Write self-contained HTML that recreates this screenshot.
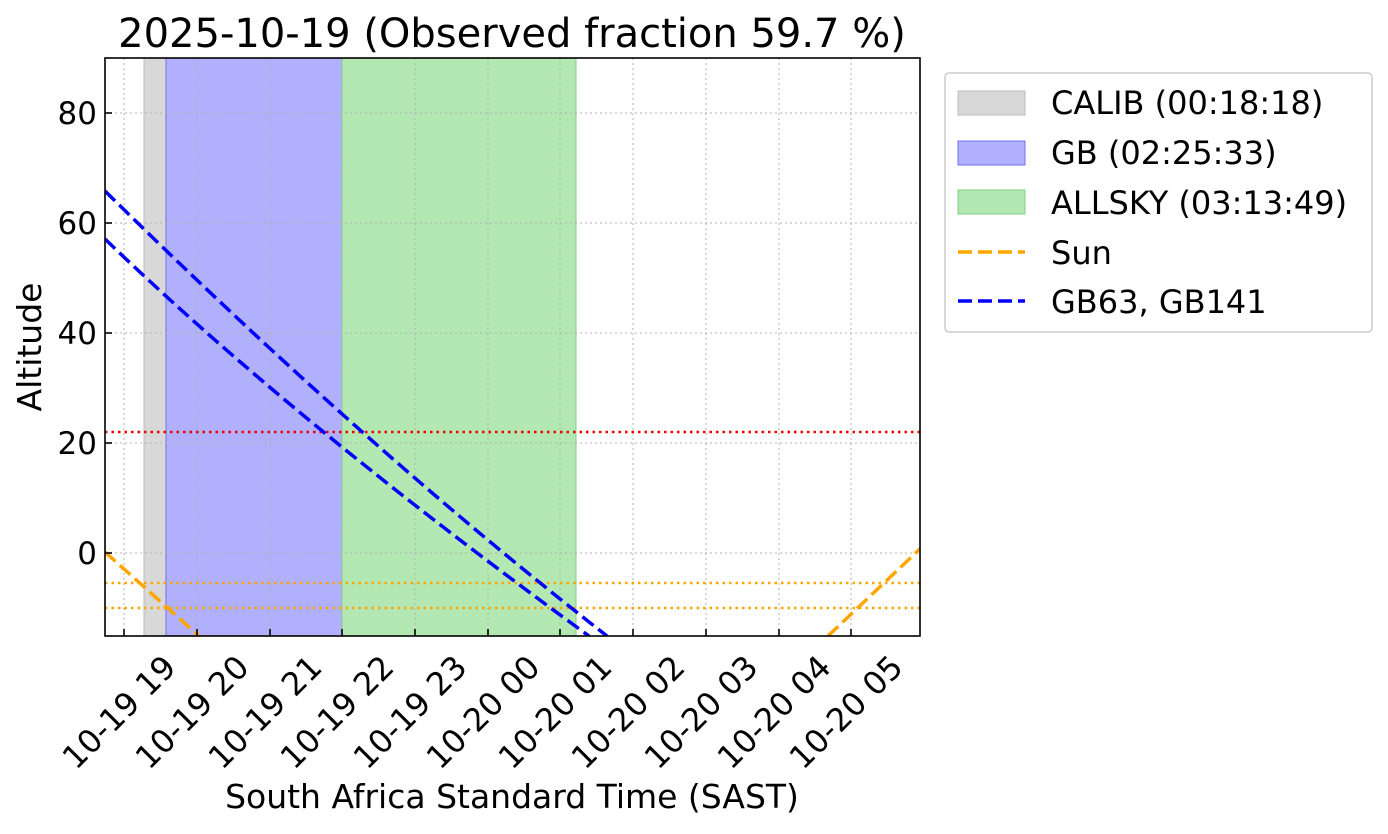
<!DOCTYPE html>
<html><head><meta charset="utf-8"><style>
body{margin:0;background:#fff}
svg text{font-family:"DejaVu Sans","Liberation Sans",sans-serif;fill:#000}
</style></head><body>
<svg width="1388" height="829" viewBox="0 0 1388 829" xmlns="http://www.w3.org/2000/svg">
<defs><clipPath id="c"><rect x="105" y="58" width="815" height="578"/></clipPath></defs>
<rect x="144" y="58" width="22" height="578" fill="#d8d8d8" stroke="#bbb" stroke-width="1"/>
<rect x="166" y="58" width="176" height="578" fill="#b0b0fc" stroke="#7070f0" stroke-width="1"/>
<rect x="342" y="58" width="234" height="578" fill="#b3e8b3" stroke="#80d080" stroke-width="1"/>
<g stroke="#b0b0b0" stroke-width="1" stroke-dasharray="2,3">
<line x1="124" y1="58" x2="124" y2="636"/><line x1="197" y1="58" x2="197" y2="636"/><line x1="270" y1="58" x2="270" y2="636"/><line x1="342" y1="58" x2="342" y2="636"/><line x1="415" y1="58" x2="415" y2="636"/><line x1="488" y1="58" x2="488" y2="636"/><line x1="560" y1="58" x2="560" y2="636"/><line x1="633" y1="58" x2="633" y2="636"/><line x1="706" y1="58" x2="706" y2="636"/><line x1="779" y1="58" x2="779" y2="636"/><line x1="851" y1="58" x2="851" y2="636"/>
<line x1="105" y1="113" x2="920" y2="113"/><line x1="105" y1="223" x2="920" y2="223"/><line x1="105" y1="333" x2="920" y2="333"/><line x1="105" y1="443" x2="920" y2="443"/><line x1="105" y1="553" x2="920" y2="553"/>
</g>
<g clip-path="url(#c)" fill="none">
<line x1="105" y1="432" x2="920" y2="432" stroke="#e00" stroke-width="2.5" stroke-dasharray="2.5,4"/>
<line x1="105" y1="583" x2="920" y2="583" stroke="orange" stroke-width="2.5" stroke-dasharray="2.5,4"/>
<line x1="105" y1="608" x2="920" y2="608" stroke="orange" stroke-width="2.5" stroke-dasharray="2.5,4"/>
<path d="M105,191 Q368,450 607,636" stroke="#00f" stroke-width="3.5" stroke-dasharray="14,6"/>
<path d="M105,239 Q297,424 589,636" stroke="#00f" stroke-width="3.5" stroke-dasharray="14,6"/>
<line x1="105" y1="552" x2="199" y2="636" stroke="orange" stroke-width="3.5" stroke-dasharray="14,6"/>
<line x1="828" y1="636" x2="922" y2="547" stroke="orange" stroke-width="3.5" stroke-dasharray="14,6"/>
</g>
<rect x="105" y="58" width="815" height="578" fill="none" stroke="#000" stroke-width="1.6"/>
<g stroke="#000" stroke-width="1.6">
<line x1="124" y1="636" x2="124" y2="629"/><line x1="197" y1="636" x2="197" y2="629"/><line x1="270" y1="636" x2="270" y2="629"/><line x1="342" y1="636" x2="342" y2="629"/><line x1="415" y1="636" x2="415" y2="629"/><line x1="488" y1="636" x2="488" y2="629"/><line x1="560" y1="636" x2="560" y2="629"/><line x1="633" y1="636" x2="633" y2="629"/><line x1="706" y1="636" x2="706" y2="629"/><line x1="779" y1="636" x2="779" y2="629"/><line x1="851" y1="636" x2="851" y2="629"/>
<line x1="105" y1="113" x2="112" y2="113"/><line x1="105" y1="223" x2="112" y2="223"/><line x1="105" y1="333" x2="112" y2="333"/><line x1="105" y1="443" x2="112" y2="443"/><line x1="105" y1="553" x2="112" y2="553"/>
</g>
<g font-size="31" text-anchor="end">
<text x="97" y="124">80</text><text x="97" y="234">60</text><text x="97" y="344">40</text><text x="97" y="454">20</text><text x="97" y="564">0</text>
</g>
<g font-size="32" text-anchor="middle">
<text transform="translate(119,712) rotate(-45)" dy="0.35em">10-19 19</text>
<text transform="translate(192,712) rotate(-45)" dy="0.35em">10-19 20</text>
<text transform="translate(265,712) rotate(-45)" dy="0.35em">10-19 21</text>
<text transform="translate(337,712) rotate(-45)" dy="0.35em">10-19 22</text>
<text transform="translate(410,712) rotate(-45)" dy="0.35em">10-19 23</text>
<text transform="translate(483,712) rotate(-45)" dy="0.35em">10-20 00</text>
<text transform="translate(555,712) rotate(-45)" dy="0.35em">10-20 01</text>
<text transform="translate(628,712) rotate(-45)" dy="0.35em">10-20 02</text>
<text transform="translate(701,712) rotate(-45)" dy="0.35em">10-20 03</text>
<text transform="translate(774,712) rotate(-45)" dy="0.35em">10-20 04</text>
<text transform="translate(846,712) rotate(-45)" dy="0.35em">10-20 05</text>
</g>
<text x="512" y="808" font-size="33" text-anchor="middle">South Africa Standard Time (SAST)</text>
<text transform="translate(41,347) rotate(-90)" font-size="33" text-anchor="middle">Altitude</text>
<text x="512" y="47" font-size="40" text-anchor="middle">2025-10-19 (Observed fraction 59.7 %)</text>
<rect x="945" y="73" width="427" height="259" rx="4" fill="#fff" stroke="#ccc" stroke-width="1.5"/>
<rect x="958" y="91" width="67" height="24" fill="#d8d8d8" stroke="#bbb"/>
<rect x="958" y="141" width="67" height="24" fill="#b0b0fc" stroke="#7070f0"/>
<rect x="958" y="190" width="67" height="24" fill="#b3e8b3" stroke="#80d080"/>
<line x1="958" y1="252" x2="1025" y2="252" stroke="orange" stroke-width="3.5" stroke-dasharray="14,6"/>
<line x1="958" y1="301" x2="1025" y2="301" stroke="#00f" stroke-width="3.5" stroke-dasharray="14,6"/>
<g font-size="32">
<text x="1051" y="114">CALIB (00:18:18)</text>
<text x="1051" y="164">GB (02:25:33)</text>
<text x="1051" y="214">ALLSKY (03:13:49)</text>
<text x="1051" y="264">Sun</text>
<text x="1051" y="313">GB63, GB141</text>
</g>
</svg>
</body></html>
